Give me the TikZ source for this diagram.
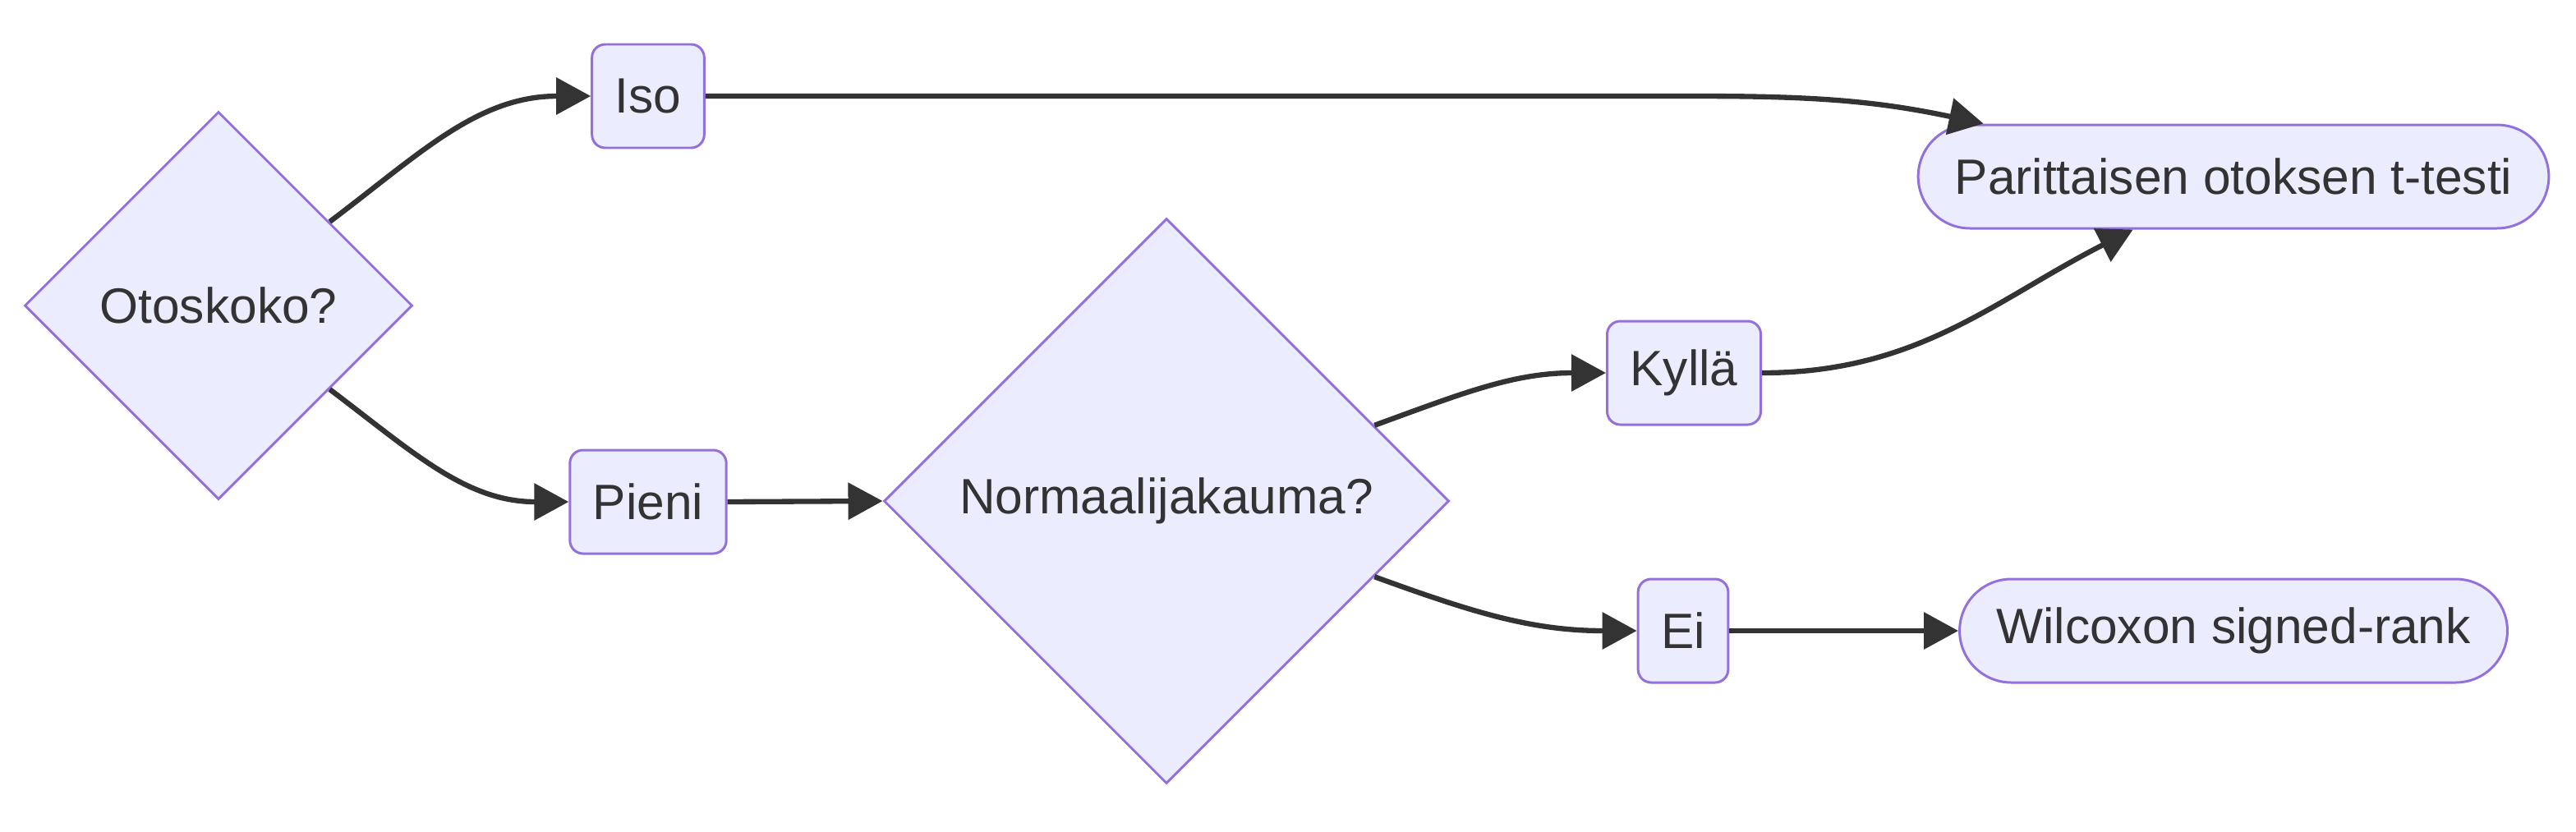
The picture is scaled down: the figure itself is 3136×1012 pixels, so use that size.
\documentclass[tikz,border=0pt]{standalone}
\usepackage{fontspec}
\setmainfont{Liberation Sans}
\usetikzlibrary{shapes.geometric,arrows.meta}
\definecolor{nodefill}{HTML}{ECECFF}
\definecolor{nodeline}{HTML}{9370DB}
\definecolor{ink}{HTML}{333333}
\begin{document}
\begin{tikzpicture}[x = 0.1mm, y = 0.1mm,
	every node/.style = {font = \fontsize{17.2}{20}\selectfont, text = ink},
	valinta/.style = {diamond, draw = nodeline, fill = nodefill, line width = 0.85pt, inner sep = 0pt},
	laatikko/.style = {rectangle, rounded corners = 1.6mm, draw = nodeline, fill = nodefill, line width = 0.85pt, minimum height = 12.6mm, inner xsep = 2.8mm},
	testi/.style = {rectangle, rounded corners = 6.3mm, draw = nodeline, fill = nodefill, line width = 0.85pt, minimum height = 12.6mm, inner xsep = 4.45mm},
	nuoli/.style = {draw = ink, line width = 1.8pt, -{Triangle[length = 4.2mm, width = 4.4mm]}}]
	\useasboundingbox (0,0) rectangle (3136,-1012);
	% solmut
	\node [valinta, minimum width = 47.2mm, minimum height = 47.2mm] (oto) at (266,-372) {Otoskoko?};
	\node [laatikko] (iso) at (789,-117) {Iso};
	\node [laatikko] (pieni) at (789,-611) {Pieni};
	\node [valinta, minimum width = 68.8mm, minimum height = 68.8mm] (norm) at (1420,-610) {Normaalijakauma?};
	\node [laatikko] (kylla) at (2050,-454) {Kyllä};
	\node [laatikko] (ei) at (2049,-768) {Ei};
	\node [testi] (par) at (2719,-215) {Parittaisen otoksen t-testi};
	\node [testi] (wil) at (2719,-768) {Wilcoxon signed-rank};
	\coordinate (parylä) at ([xshift = 8.1mm]par.north west);
	\coordinate (parala) at ([xshift = 26.3mm]par.south west);
	\coordinate (suora) at (2060,-117);
	% nuolet
	\draw [nuoli] (oto.37) to [out = 37, in = 180] (iso.west);
	\draw [nuoli] (oto.-37) to [out = -37, in = 180] (pieni.west);
	\draw [nuoli] (iso.east) -- (suora) to [out = 0, in = 168] (parylä);
	\draw [nuoli] (pieni.east) -- (norm.west);
	\draw [nuoli] (norm.20) to [out = 20, in = 180] (kylla.west);
	\draw [nuoli] (norm.-20) to [out = -20, in = 180] (ei.west);
	\draw [nuoli] (kylla.east) to [out = 0, in = -153] (parala);
	\draw [nuoli] (ei.east) -- (wil.west);
\end{tikzpicture}
\end{document}
